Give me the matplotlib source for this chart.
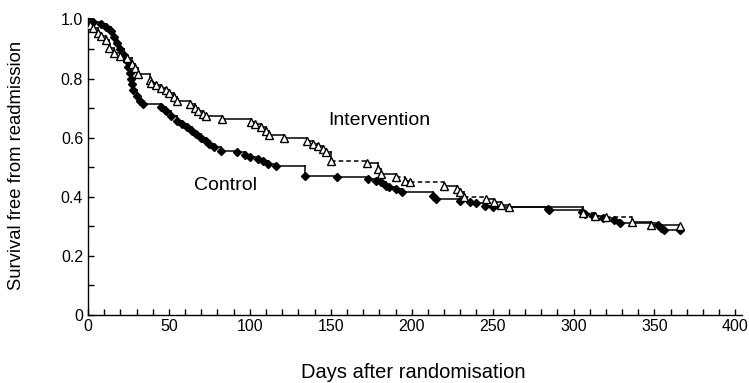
import matplotlib
matplotlib.use("Agg")
import matplotlib.pyplot as plt
from matplotlib.ticker import MultipleLocator, FuncFormatter

plt.rcParams['font.family'] = ['Liberation Sans', 'DejaVu Sans']

# Control group: event times (days) and survival after each event
control_t = [0, 3, 8, 11, 14, 16, 18, 20, 22, 24, 25, 26, 26.5, 27, 28, 30, 32, 34,
             45, 48, 51, 55, 58, 61, 64, 67, 70, 73, 75, 78, 82, 92, 97, 100, 105,
             108, 111, 116, 134, 154, 173, 178, 181, 184, 186, 190, 194, 213, 215,
             230, 236, 240, 245, 250, 284, 285, 305, 307, 312, 318, 325, 329, 352,
             354, 356, 366]
control_s = [1.0, 0.99, 0.985, 0.975, 0.96, 0.94, 0.92, 0.90, 0.88, 0.86, 0.84, 0.82,
             0.80, 0.78, 0.76, 0.74, 0.725, 0.715, 0.705, 0.69, 0.675, 0.657, 0.645,
             0.635, 0.622, 0.612, 0.600, 0.59, 0.58, 0.568, 0.556, 0.55, 0.54, 0.533,
             0.527, 0.52, 0.511, 0.505, 0.471, 0.466, 0.461, 0.455, 0.449, 0.438,
             0.432, 0.425, 0.415, 0.404, 0.393, 0.387, 0.382, 0.378, 0.370, 0.365,
             0.359, 0.354, 0.349, 0.343, 0.336, 0.328, 0.320, 0.310, 0.303, 0.295,
             0.286, 0.286]

# Intervention group
interv_t = [0, 1, 3, 6, 8, 11, 13, 16, 20, 24, 27, 29, 31, 38, 39, 42, 45, 48, 50,
            53, 55, 63, 66, 68, 71, 73, 83, 101, 103, 107, 110, 112, 121, 135, 139,
            142, 145, 147, 150, 172.5, 179, 181, 190, 196, 199, 220, 228, 230, 232,
            246, 251, 255, 260, 306, 313, 320, 336, 348, 366]
interv_s = [1.0, 0.98, 0.97, 0.955, 0.945, 0.93, 0.905, 0.885, 0.875, 0.87, 0.85,
            0.835, 0.814, 0.796, 0.786, 0.778, 0.769, 0.76, 0.752, 0.738, 0.724,
            0.713, 0.70, 0.690, 0.68, 0.673, 0.663, 0.652, 0.645, 0.635, 0.622, 0.61,
            0.600, 0.589, 0.58, 0.572, 0.563, 0.552, 0.522, 0.516, 0.494, 0.477,
            0.466, 0.455, 0.449, 0.438, 0.427, 0.415, 0.398, 0.393, 0.381, 0.372,
            0.365, 0.345, 0.335, 0.33, 0.314, 0.303, 0.30]
# horizontal segments of the intervention curve drawn dashed (start times)
interv_dashed_from = [150, 190, 199, 232, 306, 313, 320]

x_ticks = [0, 50, 100, 150, 200, 250, 300, 350, 400]
y_ticks = [0, 0.2, 0.4, 0.6, 0.8, 1.0]

fig = plt.figure(figsize=(7.49, 3.83), dpi=100)
ax = fig.add_axes([0.1175, 0.1775, 0.873, 0.7755])


def draw_km(ax, t, s, dashed_from=()):
    for i in range(len(t) - 1):
        ls = (0, (3, 2)) if t[i] in dashed_from else '-'
        ax.plot([t[i], t[i + 1]], [s[i], s[i]], color='black', lw=1.1, ls=ls)
        ax.plot([t[i + 1], t[i + 1]], [s[i], s[i + 1]], color='black', lw=1.1)


draw_km(ax, control_t, control_s)
draw_km(ax, interv_t, interv_s, interv_dashed_from)
ax.plot(control_t[1:], control_s[1:], ls='none', marker='D', ms=4.5,
        mfc='black', mec='black', zorder=3)
ax.plot(interv_t[1:], interv_s[1:], ls='none', marker='^', ms=6,
        mfc='white', mec='black', mew=1.0, zorder=4)

ax.set_xlim(0, 404)
ax.set_ylim(0, 1.005)
ax.spines['top'].set_visible(False)
ax.spines['right'].set_visible(False)
ax.spines['left'].set_linewidth(1.0)
ax.spines['bottom'].set_linewidth(1.0)

ax.set_xticks(x_ticks)
ax.xaxis.set_minor_locator(MultipleLocator(10))
ax.set_yticks(y_ticks)
ax.yaxis.set_minor_locator(MultipleLocator(0.1))
ax.yaxis.set_major_formatter(FuncFormatter(lambda v, p: '0' if v == 0 else f'{v:.1f}'))
ax.tick_params(which='both', direction='in', length=4, width=1, labelsize=11.5)
ax.tick_params(axis='x', pad=3)

ax.set_xlabel('Days after randomisation', fontsize=14.5)
ax.xaxis.label.set_va('center')
ax.xaxis.set_label_coords(0.497, -0.192)
ax.set_ylabel('Survival free from readmission', fontsize=13.3)
ax.yaxis.label.set_va('center')
ax.yaxis.set_label_coords(-0.1086, 0.505)

ax.text(180, 0.657, 'Intervention', fontsize=14, ha='center', va='center')
ax.text(85, 0.438, 'Control', fontsize=14, ha='center', va='center')

fig.savefig('out.png', dpi=100)
